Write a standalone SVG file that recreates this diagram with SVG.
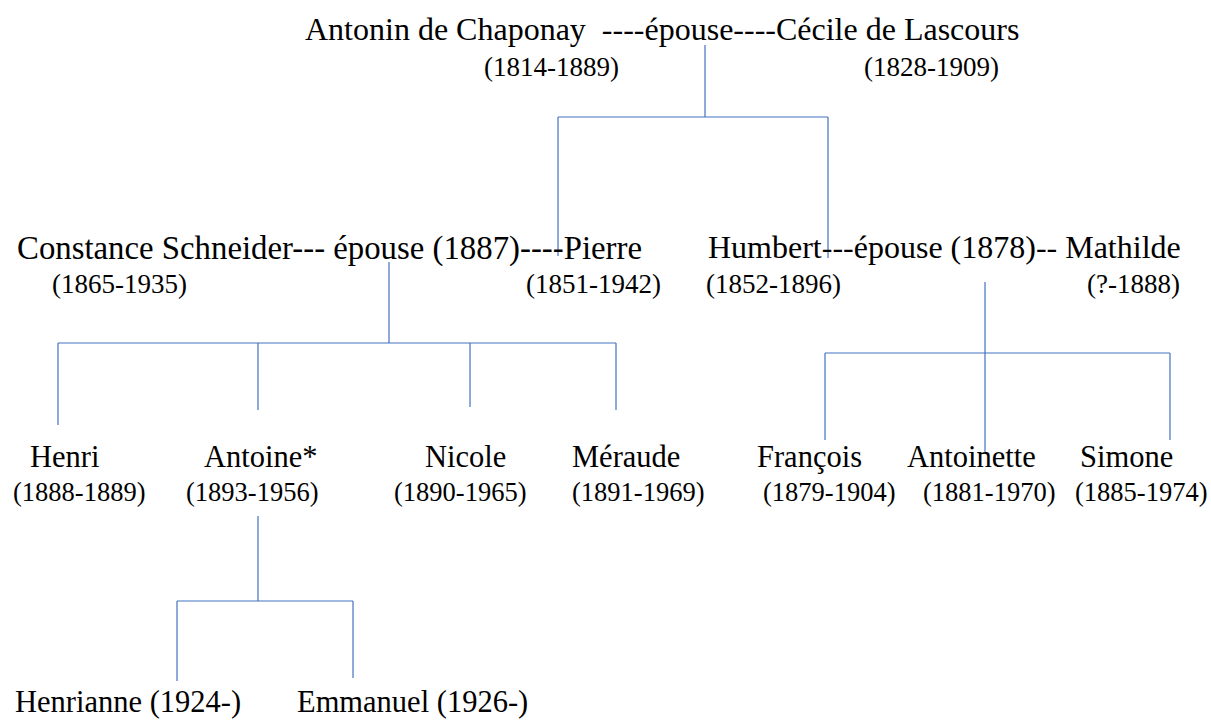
<svg xmlns="http://www.w3.org/2000/svg" width="1211" height="726" viewBox="0 0 1211 726">
<style>
text{font-family:"Liberation Serif","Times New Roman",serif;fill:#000;white-space:pre}
.n{font-size:32px}
.c{font-size:30.5px}
.d{font-size:27px}
.e{font-size:26.5px}
.l{stroke:#4472C4;stroke-width:1.2;fill:none}
</style>
<rect width="1211" height="726" fill="#fff"/>
<g id="connectors">
<path class="l" d="M705 45V117M558 117H828M558 117V256M828 117V258"/>
<path class="l" d="M389 262V343M58 343H616M58 343V425M258 343V410M470 343V407M616 343V410"/>
<path class="l" d="M985 282V452M825 353H1170M825 353V440M1170 353V440"/>
<path class="l" d="M258 516V601M177 601H353M177 601V681M353 601V678"/>
</g>
<g id="couple-top">
<text class="n" x="305" y="40" xml:space="preserve">Antonin de Chaponay  ----épouse----Cécile de Lascours</text>
<text class="d" x="484" y="76">(1814-1889)</text>
<text class="d" x="864" y="76">(1828-1909)</text>
</g>
<g id="couple-pierre">
<text class="n" x="17" y="259" style="font-size:32.8px">Constance Schneider--- épouse (1887)----Pierre</text>
<text class="d" x="52" y="293">(1865-1935)</text>
<text class="d" x="526" y="293">(1851-1942)</text>
</g>
<g id="couple-humbert">
<text class="n" x="708" y="258">Humbert---épouse (1878)-- Mathilde</text>
<text class="d" x="706" y="293">(1852-1896)</text>
<text class="d" x="1180" y="293" text-anchor="end">(?-1888)</text>
</g>
<g id="henri"><text class="c" x="30" y="467">Henri</text><text class="e" x="13" y="501">(1888-1889)</text></g>
<g id="antoine"><text class="c" x="204" y="467">Antoine*</text><text class="e" x="186" y="501">(1893-1956)</text></g>
<g id="nicole"><text class="c" x="425" y="467">Nicole</text><text class="e" x="394" y="501">(1890-1965)</text></g>
<g id="meraude"><text class="c" x="572" y="467">Méraude</text><text class="e" x="572" y="501">(1891-1969)</text></g>
<g id="francois"><text class="c" x="757" y="467">François</text><text class="e" x="763" y="501">(1879-1904)</text></g>
<g id="antoinette"><text class="c" x="907" y="467">Antoinette</text><text class="e" x="923" y="501">(1881-1970)</text></g>
<g id="simone"><text class="c" x="1080" y="467">Simone</text><text class="e" x="1075" y="501">(1885-1974)</text></g>
<g id="henrianne"><text class="c" x="15" y="712">Henrianne (1924-)</text></g>
<g id="emmanuel"><text class="c" x="297" y="712">Emmanuel (1926-)</text></g>
</svg>
